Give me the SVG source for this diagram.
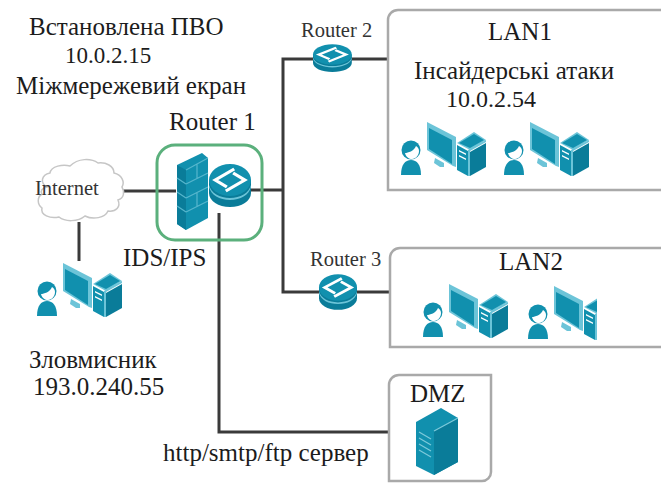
<svg xmlns="http://www.w3.org/2000/svg" width="661" height="483" viewBox="0 0 661 483">
<style>
text{font-family:"Liberation Serif","Times New Roman",serif;fill:#1c1c1c}
.t{font-size:25px}
.s{font-size:20.500px;fill:#333}
.c{fill:none;stroke:#3a3a3a;stroke-width:3}
.box{fill:#fff;stroke:#a9a9a9;stroke-width:2.5}
.d{fill:#0a7c99}
.m{fill:#1190ae}
.l{fill:#6cc4d8}
.w{fill:none;stroke:#fff;stroke-width:3.200;stroke-linejoin:miter}
</style>
<defs>
<g id="ws">
<circle cx="11" cy="28" r="9.500" class="m"/>
<path fill="#fff" d="M5 31c3 0 9-2 11-7c2 1 3 3 3 5c0 4-3 8-7 8c-3 0-6-2-7-6z"/>
<path class="m" d="M1 53c0-10 4-15 10-15s10 5 10 15z"/>
<path class="l" d="M27 0l29 15v30l-3-1-26-16z"/>
<path class="m" d="M29 6l23 12v24L29 27z"/>
<path class="l" d="M35 36l9 5v4l-4 0-6-4z"/>
<path class="l" d="M57 21l17-11 12 8-16 10z"/>
<path class="m" d="M59 21l15-9 10 6-14 8z"/>
<path class="m" d="M57 23l11 6v25l-11-6z"/>
<path class="l" d="M68 28l18-10v2l-16 9v25h-2z"/>
<path class="d" d="M70 30l16-9v24l-16 9z"/>
<path fill="#fff" d="M59 28l7 3.500v1.500l-7-3.500zM59 33l7 3.500v1.500l-7-3.500z"/>
</g>
<g id="rt">
<path class="d" d="M0 15v13c0 8 9 14 20 14s20-6 20-14V15z"/>
<path fill="#6cc4d8" d="M0 20c2 8 10 13 20 13s18-5 20-13v2c-2 8-10 13-20 13S2 30 0 22z"/>
<ellipse class="m" cx="20" cy="15" rx="20" ry="16"/>
<path class="w" d="M24 4L6 15l11 7M16 26l18-11-11-7"/>
</g>
<clipPath id="cut"><rect x="0" y="-5" width="70" height="65"/></clipPath>
</defs>
<rect width="661" height="483" fill="#fff"/>

<g id="connectors">
<path class="c" d="M123 191H176"/>
<path class="c" d="M79 222V261"/>
<path class="c" d="M250 190H283"/>
<path class="c" d="M313 59H283V292H319"/>
<path class="c" d="M351 59H388"/>
<path class="c" d="M356 292H390"/>
<path class="c" d="M219 213V432H389"/>
</g>

<g id="internet">
<path d="M47 187c-7-4-6-12 3-14c1-7 13-9 20-7c8-8 21-8 28-3c8-1 16 3 16 10c8 2 11 9 8 14c3 5 2 11-4 13c3 7-2 12-10 11c-3 7-15 9-23 5c-7 6-20 6-26 1c-9 2-19-2-17-9c-5-4-5-11 0-14c-2-3 0-6 5-7z" fill="#fff" stroke="#c6c6c6" stroke-width="1.500"/>
<text class="s" x="35" y="195">Internet</text>
</g>

<g id="attacker"><use href="#ws" x="36" y="263"/></g>

<g id="router1">
<rect x="157" y="145" width="105" height="95" rx="18" fill="none" stroke="#5bb07c" stroke-width="3"/>
<path class="m" d="M177 165l25-12 6 5v60l-22 12-9-6z"/>
<path class="d" d="M177 165l9 5v60l-9-6z"/>
<path d="M186 170l22-12M186 184l22-11M186 198l22-11M186 212l22-11M177 178l9 6M177 192l9 6M177 206l9 6M197 164v14M197 192v14" stroke="#56b6cd" stroke-width="1.200" fill="none"/>
<use href="#rt" transform="translate(209 165) scale(1.05 1)"/>
</g>

<g id="router2">
<use href="#rt" transform="translate(313 45) scale(.97 .64)"/>
<text class="s" x="301" y="37">Router 2</text>
</g>

<g id="router3">
<use href="#rt" transform="translate(319 275) scale(.95 .83)"/>
<text class="s" x="310" y="266">Router 3</text>
</g>

<g id="lan1">
<path class="box" d="M661 10H398a10 10 0 0 0-10 10V190H661"/>
<text class="t" x="488" y="40">LAN1</text>
<text class="t" x="414" y="79">Інсайдерські атаки</text>
<text class="t" x="446" y="107" style="font-size:24px">10.0.2.54</text>
<use href="#ws" x="400" y="122"/>
<use href="#ws" x="503" y="122"/>
</g>

<g id="lan2">
<path class="box" d="M661 248H400a10 10 0 0 0-10 10V347H661"/>
<text class="t" x="499" y="270">LAN2</text>
<use href="#ws" x="422" y="284"/>
<g transform="translate(527 286)"><use href="#ws" clip-path="url(#cut)"/></g>
</g>

<g id="dmz">
<path class="box" d="M389 481V385a10 10 0 0 1 10-10H491V472a9 9 0 0 1-9 9z"/>
<text class="t" x="410" y="402">DMZ</text>
<path class="m" d="M416 422l25-14 17 10v44l-24 13-18-9z"/>
<path class="d" d="M434 431l24-13v44l-24 13z"/>
<path d="M434 431l24-13M419 432l12 7M419 438l12 7M419 444l12 7M419 450l12 7" stroke="#7cc9da" stroke-width="1.300" fill="none"/>
</g>

<g id="labels">
<text class="t" x="29" y="35">Встановлена ПВО</text>
<text class="t" x="65" y="63" style="font-size:23px">10.0.2.15</text>
<text class="t" x="16" y="94">Міжмережевий екран</text>
<text class="t" x="169" y="130">Router 1</text>
<text class="t" x="123" y="266">IDS/IPS</text>
<text class="t" x="29" y="368">Зловмисник</text>
<text class="t" x="33" y="395">193.0.240.55</text>
<text class="t" x="163" y="461">http/smtp/ftp сервер</text>
</g>
</svg>
